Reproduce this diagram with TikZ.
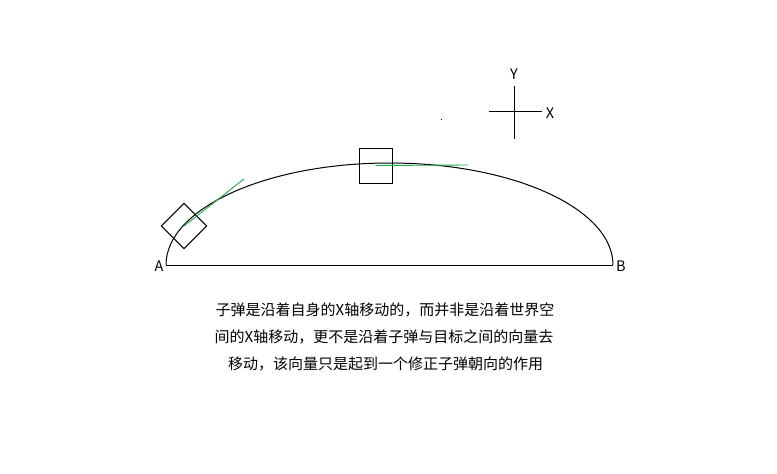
\documentclass[tikz,border=0pt]{standalone}
\usepackage{fontspec}
\setmainfont{Noto Sans CJK SC}
\definecolor{tangent}{RGB}{30,170,70}
\begin{document}
\begin{tikzpicture}[x=1pt,y=-1pt,
  line/.style={draw=black,line width=1pt},
  tline/.style={draw=tangent,line width=0.9pt},
  lbl/.style={font=\fontsize{14.5}{16}\selectfont,inner sep=0pt},
  txt/.style={font=\fontsize{15}{18}\selectfont,inner sep=0pt,anchor=center},
  box/.style={draw=black,line width=1pt,fill=none,inner sep=0pt}]
\useasboundingbox (0,0) rectangle (777,474);
% base line and arc
\coordinate (A) at (166,265);
\coordinate (B) at (613,265);
\draw[line] (A) -- (B);
\draw[line] (B) arc[start angle=0,end angle=-180,x radius=223.5,y radius=102];
\node[lbl] (la) at (159,266) {A};
\node[lbl] (lb) at (621,266) {B};
% top box and tangent
\node[box,minimum width=33pt,minimum height=35pt] (topbox) at (375.5,165.5) {};
\coordinate (topend) at (468,165);
\draw[tline] (topbox.center) -- (topend);
% tilted box and tangent
\node[box,minimum size=32pt,rotate=45] (tiltbox) at (184,226) {};
\coordinate (tiltend) at (244,179);
\draw[tline] (tiltbox.center) -- (tiltend);
% axes
\coordinate (yt) at (514.5,86);
\coordinate (yb) at (514.5,139);
\coordinate (xl) at (489,111.5);
\coordinate (xr) at (542,111.5);
\draw[line] (yt) -- (yb);
\draw[line] (xl) -- (xr);
\node[lbl] (ly) at (514,74) {Y};
\node[lbl] (lx) at (550,113) {X};
% stray dot
\fill (440.5,118.5) rectangle (441.5,119.5);
% text
\node[txt] (t1) at (385,310) {子弹是沿着自身的X轴移动的，而并非是沿着世界空};
\node[txt] (t2) at (384,337) {间的X轴移动，更不是沿着子弹与目标之间的向量去};
\node[txt] (t3) at (385.5,364) {移动，该向量只是起到一个修正子弹朝向的作用};
\end{tikzpicture}
\end{document}
